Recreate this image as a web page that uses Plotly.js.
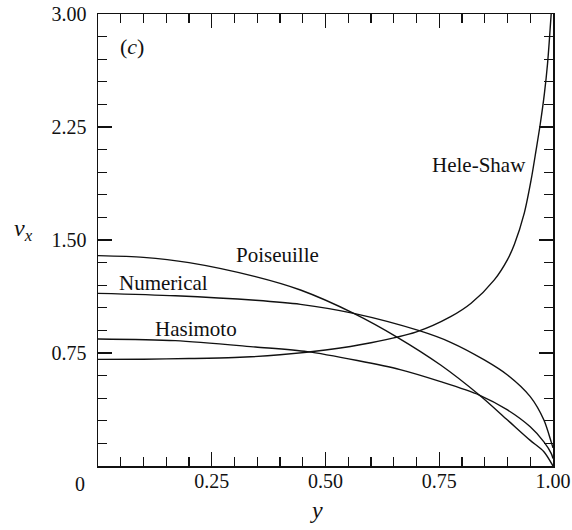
<!DOCTYPE html>
<html>
<head>
<meta charset="utf-8">
<script src="https://cdn.plot.ly/plotly-3.0.1.min.js"></script>
<style>html,body{margin:0;padding:0;background:#fff;}#chart{width:572px;height:530px;}</style>
</head>
<body>
<div id="chart"></div>
<script>
// Data
const poiseuilleY = [0, 0.1, 0.2, 0.346, 0.445, 0.562, 0.658, 0.753, 0.838, 0.9, 0.95, 0.98, 1.0];
const poiseuilleV = [1.396, 1.385, 1.35, 1.257, 1.168, 1.013, 0.854, 0.670, 0.471, 0.305, 0.17, 0.095, 0.0];

const numericalY = [0, 0.17, 0.346, 0.445, 0.562, 0.706, 0.775, 0.849, 0.9, 0.95, 0.98, 0.996, 1.0];
const numericalV = [1.146, 1.13, 1.10, 1.073, 1.013, 0.898, 0.821, 0.704, 0.604, 0.46, 0.305, 0.16, 0.12];

const hasimotoY = [0, 0.17, 0.346, 0.46, 0.57, 0.664, 0.753, 0.838, 0.9, 0.95, 0.98, 0.996, 1.0];
const hasimotoV = [0.843, 0.832, 0.79, 0.759, 0.70, 0.64, 0.56, 0.471, 0.372, 0.26, 0.16, 0.084, 0.05];

const heleShawY = [0, 0.1, 0.2, 0.3, 0.4, 0.5, 0.6, 0.7, 0.775, 0.82, 0.871, 0.9, 0.915, 0.937, 0.952, 0.963, 0.972, 0.981, 0.988, 0.996];
const heleShawV = [0.708, 0.709, 0.713, 0.720, 0.738, 0.770, 0.818, 0.890, 0.991, 1.08, 1.235, 1.37, 1.47, 1.68, 1.90, 2.10, 2.27, 2.47, 2.67, 3.0];

const xTickVals = [0, 0.25, 0.5, 0.75, 1.0];
const xTickText = ['', '0.25', '0.50', '0.75', '1.00'];
const yTickVals = [0, 0.75, 1.5, 2.25, 3.0];
const yTickText = ['', '0.75', '1.50', '2.25', '3.00'];

const curveLabels = [
  {text: 'Poiseuille', x: 0.395, y: 1.40},
  {text: 'Numerical', x: 0.143, y: 1.215},
  {text: 'Hasimoto', x: 0.216, y: 0.909},
  {text: 'Hele-Shaw', x: 0.837, y: 2.0}
];

const FONT = 'Liberation Serif, Times New Roman, serif';
const lineStyle = {color: '#111', width: 1.4, shape: 'spline', smoothing: 0.8};

const traces = [
  {x: poiseuilleY, y: poiseuilleV, name: 'Poiseuille'},
  {x: numericalY, y: numericalV, name: 'Numerical'},
  {x: hasimotoY, y: hasimotoV, name: 'Hasimoto'},
  {x: heleShawY, y: heleShawV, name: 'Hele-Shaw'}
].map(t => Object.assign(t, {type: 'scatter', mode: 'lines', line: lineStyle, hoverinfo: 'skip', cliponaxis: true}));

const annotations = curveLabels.map(l => ({
  text: l.text, x: l.x, y: l.y, xref: 'x', yref: 'y', showarrow: false,
  xanchor: 'center', yanchor: 'middle',
  font: {family: FONT, size: 21, color: '#111'}
}));
function paperAnn(text, px, py, size) {
  return {text: text, xref: 'paper', yref: 'paper', x: (px - 98) / 455, y: (466 - py) / 452,
    xanchor: 'center', yanchor: 'middle', showarrow: false,
    font: {family: FONT, size: size, color: '#111'}};
}
annotations.push(paperAnn('(<i>c</i>)', 132, 47, 22));
annotations.push(paperAnn('0', 80, 484, 20));
annotations.push(paperAnn('<i>y</i>', 316, 510, 24));
annotations.push(paperAnn('<i>v</i><sub><i>x</i></sub>', 23, 230, 24));

const axisCommon = {
  showgrid: false, zeroline: false, showline: true, linecolor: '#111', linewidth: 1.5,
  mirror: 'allticks', ticks: 'inside', ticklen: 14, tickwidth: 1.3, tickcolor: '#111',
  tickmode: 'array', tickfont: {family: FONT, size: 20, color: '#111'}, fixedrange: true
};

const layout = {
  width: 572, height: 530,
  margin: {l: 98, r: 19, t: 14, b: 64},
  paper_bgcolor: '#fff', plot_bgcolor: '#fff',
  showlegend: false,
  xaxis: Object.assign({}, axisCommon, {
    range: [0, 1], tickvals: xTickVals, ticktext: xTickText, ticklabelstandoff: -4,
    minor: {tickmode: 'linear', tick0: 0, dtick: 0.05, ticks: 'inside', ticklen: 9, tickwidth: 1.2, tickcolor: '#111'}
  }),
  yaxis: Object.assign({}, axisCommon, {
    range: [0, 3], tickvals: yTickVals, ticktext: yTickText, ticklabelstandoff: 6,
    minor: {tickmode: 'linear', tick0: 0, dtick: 0.15, ticks: 'inside', ticklen: 9, tickwidth: 1.2, tickcolor: '#111'}
  }),
  annotations: annotations
};

Plotly.newPlot('chart', traces, layout, {displayModeBar: false, staticPlot: true});
</script>
</body>
</html>
